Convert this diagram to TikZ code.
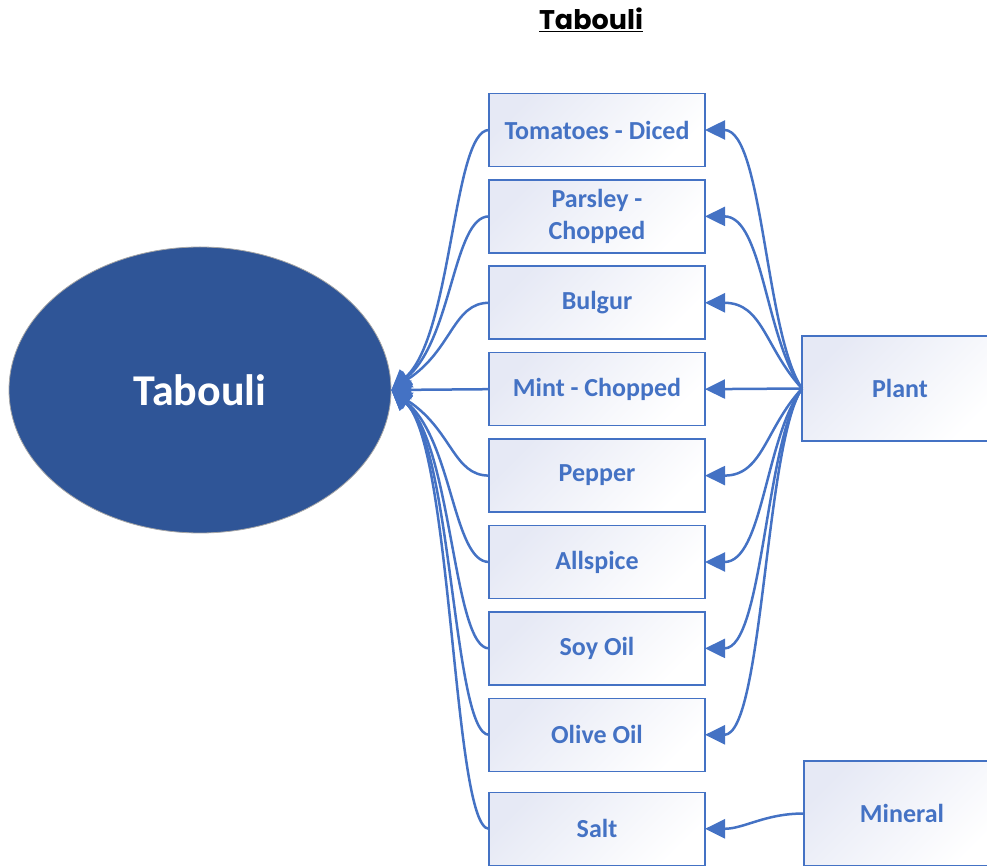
\documentclass[tikz,border=0pt]{standalone}
\usepackage{fontspec}
\setmainfont{Carlito}
\newfontfamily\titlefont{Poppins}
\usepackage{tikz}
\usetikzlibrary{shapes.geometric, arrows.meta, positioning}
\usepackage{xcolor}
\definecolor{linkblue}{HTML}{4472C4}
\definecolor{dishblue}{HTML}{2F5597}
\definecolor{boxtint}{HTML}{E6E9F5}
\definecolor{rimgray}{HTML}{A6A6A6}

\begin{document}
\begin{tikzpicture}[x=1pt, y=1pt,
  dish/.style={ellipse, draw=rimgray, line width=0.8pt, fill=dishblue, text=white,
      minimum width=382pt, minimum height=286pt, inner sep=0pt,
      font=\bfseries\fontsize{44}{48}\selectfont},
  ingredient/.style={rectangle, draw=linkblue, line width=1.6pt, outer sep=0pt,
      top color=boxtint, bottom color=white, shading angle=45,
      minimum width=216pt, minimum height=73pt, inner sep=0pt,
      text=linkblue, align=center, font=\bfseries\fontsize{26}{32}\selectfont},
  source/.style={ingredient, minimum width=196pt, minimum height=105pt},
  link/.style={draw=linkblue, line width=2.5pt, -{Triangle[length=20pt, width=19pt]}}]
\useasboundingbox (0,0) rectangle (987,865);

\node (title) at (591,845) {\titlefont\bfseries\fontsize{27}{30}\selectfont\underline{Tabouli}};
\node[dish] (tab) at (200,475) {Tabouli};

\node[ingredient] (tom) at (597,735) {Tomatoes - Diced};
\node[ingredient, below=13.4pt of tom] (par) {Parsley -\\Chopped};
\node[ingredient, below=13.4pt of par] (bul) {Bulgur};
\node[ingredient, below=13.4pt of bul] (min) {Mint - Chopped};
\node[ingredient, below=13.4pt of min] (pep) {Pepper};
\node[ingredient, below=13.4pt of pep] (all) {Allspice};
\node[ingredient, below=13.4pt of all] (soy) {Soy Oil};
\node[ingredient, below=13.4pt of soy] (oli) {Olive Oil};
\node[ingredient, below=21pt of oli] (sal) {Salt};

\node[source] (plant) at (900,476.5) {Plant};
\node[source] (mineral) at (902,51.5) {Mineral};

% ingredients into the dish
\draw[link] (min.west) -- (tab.east);
\foreach \n/\s in {tom/55, par/50, bul/40, pep/-40, all/-50, soy/-55, oli/-55, sal/-55}
  \draw[link] (\n.west) .. controls +(-36,0) and +(61,\s) .. (tab.east);

% where each one comes from
\draw[link] (plant.west) -- (min.east);
\foreach \n/\s in {tom/55, par/50, bul/40, pep/-40, all/-50, soy/-55, oli/-55}
  \draw[link] (plant.west) .. controls +(-37,\s) and +(58,0) .. (\n.east);
\draw[link] (mineral.west) to[out=180, in=0] (sal.east);
\end{tikzpicture}
\end{document}
